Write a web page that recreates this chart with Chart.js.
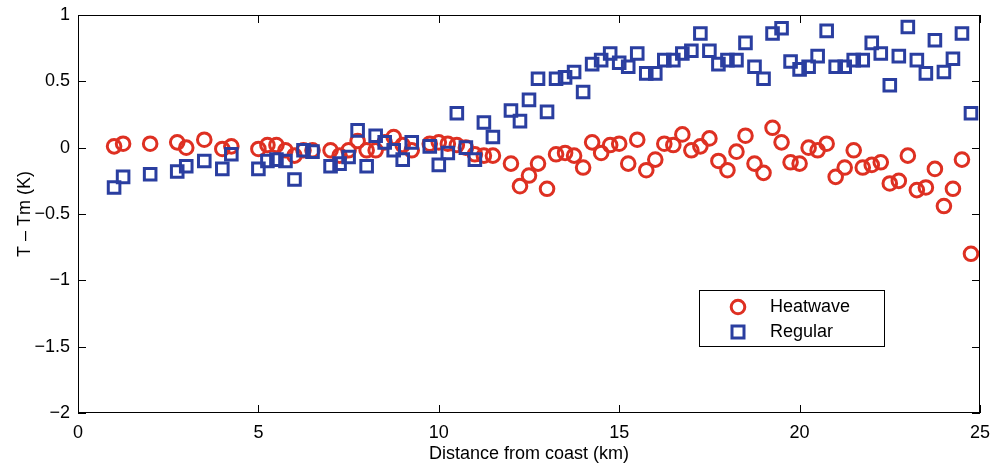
<!DOCTYPE html>
<html>
<head>
<meta charset="utf-8">
<script src="https://cdn.jsdelivr.net/npm/chart.js@4.4.0/dist/chart.umd.min.js"></script>
<style>
  html, body { margin: 0; padding: 0; background: #fff; }
</style>
</head>
<body>
<canvas id="myChart" width="1003" height="465"></canvas>
<script>
// distance from coast (km), shared by both series
const distanceKm = [
  1, 1.25, 2, 2.75, 3, 3.5, 4, 4.25, 5, 5.25, 5.5, 5.75, 6, 6.25, 6.5,
  7, 7.25, 7.5, 7.75, 8, 8.25, 8.5, 8.75, 9, 9.25, 9.75, 10, 10.25, 10.5, 10.75,
  11, 11.25, 11.5, 12, 12.25, 12.5, 12.75, 13, 13.25, 13.5, 13.75, 14, 14.25, 14.5, 14.75,
  15, 15.25, 15.5, 15.75, 16, 16.25, 16.5, 16.75, 17, 17.25, 17.5, 17.75, 18, 18.25, 18.5, 18.75,
  19, 19.25, 19.5, 19.75, 20, 20.25, 20.5, 20.75, 21, 21.25, 21.5, 21.75, 22, 22.25, 22.5, 22.75,
  23, 23.25, 23.5, 23.75, 24, 24.25, 24.5, 24.75
]

// T - Tm (K)
const heatwave = [
  0.01, 0.03, 0.03, 0.04, 0.00, 0.06, -0.01, 0.01, -0.01, 0.02, 0.02, -0.02, -0.06, -0.02, -0.02,
  -0.02, -0.06, -0.02, 0.05, -0.02, -0.02, 0.04, 0.08, 0.02, -0.02, 0.03, 0.04, 0.03, 0.02, 0.00,
  -0.05, -0.06, -0.06, -0.12, -0.29, -0.21, -0.12, -0.31, -0.05, -0.04, -0.06, -0.15, 0.04, -0.04, 0.02,
  0.03, -0.12, 0.06, -0.17, -0.09, 0.03, 0.02, 0.10, -0.02, 0.01, 0.07, -0.10, -0.17, -0.03, 0.09, -0.12,
  -0.19, 0.15, 0.04, -0.11, -0.12, 0.00, -0.02, 0.03, -0.22, -0.15, -0.02, -0.15, -0.13, -0.11, -0.27, -0.25,
  -0.06, -0.32, -0.30, -0.16, -0.44, -0.31, -0.09, -0.80
]

const regular = [
  -0.30, -0.22, -0.20, -0.18, -0.14, -0.10, -0.16, -0.05, -0.16, -0.10, -0.09, -0.10, -0.24, -0.02, -0.03,
  -0.14, -0.12, -0.07, 0.13, -0.14, 0.09, 0.04, -0.02, -0.09, 0.04, 0.01, -0.13, -0.04, 0.26, 0.00,
  -0.09, 0.19, 0.08, 0.28, 0.20, 0.36, 0.52, 0.27, 0.52, 0.53, 0.57, 0.42, 0.63, 0.66, 0.71,
  0.64, 0.61, 0.71, 0.56, 0.56, 0.66, 0.66, 0.71, 0.73, 0.86, 0.73, 0.63, 0.66, 0.66, 0.79, 0.61,
  0.52, 0.86, 0.90, 0.65, 0.59, 0.61, 0.69, 0.88, 0.61, 0.61, 0.66, 0.66, 0.79, 0.71, 0.47, 0.69,
  0.91, 0.66, 0.56, 0.81, 0.57, 0.67, 0.86, 0.26
]

const xTicks = [0, 5, 10, 15, 20, 25]
const yTicks = [-2, -1.5, -1, -0.5, 0, 0.5, 1]

const RED = 'rgb(222, 48, 34)'
const BLUE = 'rgb(42, 62, 160)'
const FONT = "'Liberation Sans', Arial, Helvetica, sans-serif"

const toPoints = (ys) => distanceKm.map((d, i) => ({ x: d, y: ys[i] }))
const minus = (v) => (v < 0 ? '\u2212' + Math.abs(v) : String(v))

// box around the plot, inward ticks on all four sides and the legend inside
const matlabFrame = {
  id: 'matlabFrame',
  afterDatasetsDraw(chart) {
    const { ctx, chartArea: a, scales } = chart
    const tl = 8
    ctx.save()
    ctx.strokeStyle = '#000'
    ctx.lineWidth = 1
    ctx.strokeRect(a.left + 0.5, a.top + 0.5, a.right - a.left - 1, a.bottom - a.top - 1)
    ctx.beginPath()
    xTicks.forEach(v => {
      const px = Math.round(scales.x.getPixelForValue(v)) + 0.5
      ctx.moveTo(px, a.bottom); ctx.lineTo(px, a.bottom - tl)
      ctx.moveTo(px, a.top); ctx.lineTo(px, a.top + tl)
    })
    yTicks.forEach(v => {
      const py = Math.round(scales.y.getPixelForValue(v)) + 0.5
      ctx.moveTo(a.left, py); ctx.lineTo(a.left + tl, py)
      ctx.moveTo(a.right, py); ctx.lineTo(a.right - tl, py)
    })
    ctx.stroke()

    // legend
    const bx = a.right - 281, by = a.bottom - 123, bw = 185, bh = 56
    ctx.fillStyle = '#fff'
    ctx.fillRect(bx, by, bw, bh)
    ctx.strokeRect(bx + 0.5, by + 0.5, bw, bh)
    ctx.lineWidth = 3
    ctx.strokeStyle = RED
    ctx.beginPath()
    ctx.arc(bx + 39, by + 17, 6.8, 0, Math.PI * 2)
    ctx.stroke()
    ctx.strokeStyle = BLUE
    ctx.strokeRect(bx + 33, by + 36, 12, 12)
    ctx.fillStyle = '#000'
    ctx.font = '18px ' + FONT
    ctx.textBaseline = 'middle'
    ctx.fillText('Heatwave', bx + 71, by + 17)
    ctx.fillText('Regular', bx + 71, by + 42)
    ctx.restore()
  }
}

const ctx = document.getElementById('myChart')
const myChart = new Chart(ctx, {
  type: 'scatter',
  data: {
    datasets: [
      {
        label: 'Heatwave',
        data: toPoints(heatwave),
        pointStyle: 'circle',
        pointRadius: 6.8,
        pointBorderWidth: 3,
        borderColor: RED,
        backgroundColor: 'rgba(0,0,0,0)',
        order: 1
      },
      {
        label: 'Regular',
        data: toPoints(regular),
        pointStyle: 'rect',
        pointRadius: 8.2,
        pointBorderWidth: 3,
        borderColor: BLUE,
        backgroundColor: 'rgba(0,0,0,0)',
        order: 0
      }
    ]
  },
  options: {
    responsive: false,
    animation: false,
    layout: { padding: { top: 15, right: 23, left: 0, bottom: 0 } },
    plugins: {
      legend: { display: false },
      tooltip: { enabled: false }
    },
    scales: {
      x: {
        type: 'linear',
        min: 0,
        max: 25,
        afterBuildTicks: (s) => { s.ticks = xTicks.map(v => ({ value: v })) },
        afterFit: (s) => { s.height = 52 },
        grid: { display: false },
        border: { display: false },
        ticks: { color: '#000', padding: 1, font: { family: FONT, size: 18 }, maxRotation: 0 },
        title: {
          display: true,
          text: 'Distance from coast (km)',
          color: '#000',
          font: { family: FONT, size: 18 },
          padding: { top: 0, bottom: 0 }
        }
      },
      y: {
        min: -2,
        max: 1,
        afterBuildTicks: (s) => { s.ticks = yTicks.map(v => ({ value: v })) },
        afterFit: (s) => { s.width = 78 },
        grid: { display: false },
        border: { display: false },
        ticks: { color: '#000', padding: 0, font: { family: FONT, size: 18 }, callback: minus },
        title: {
          display: true,
          text: 'T \u2013 Tm (K)',
          color: '#000',
          font: { family: FONT, size: 18 },
          padding: { top: 14, bottom: 0 }
        }
      }
    }
  },
  plugins: [matlabFrame]
})
</script>
</body>
</html>
